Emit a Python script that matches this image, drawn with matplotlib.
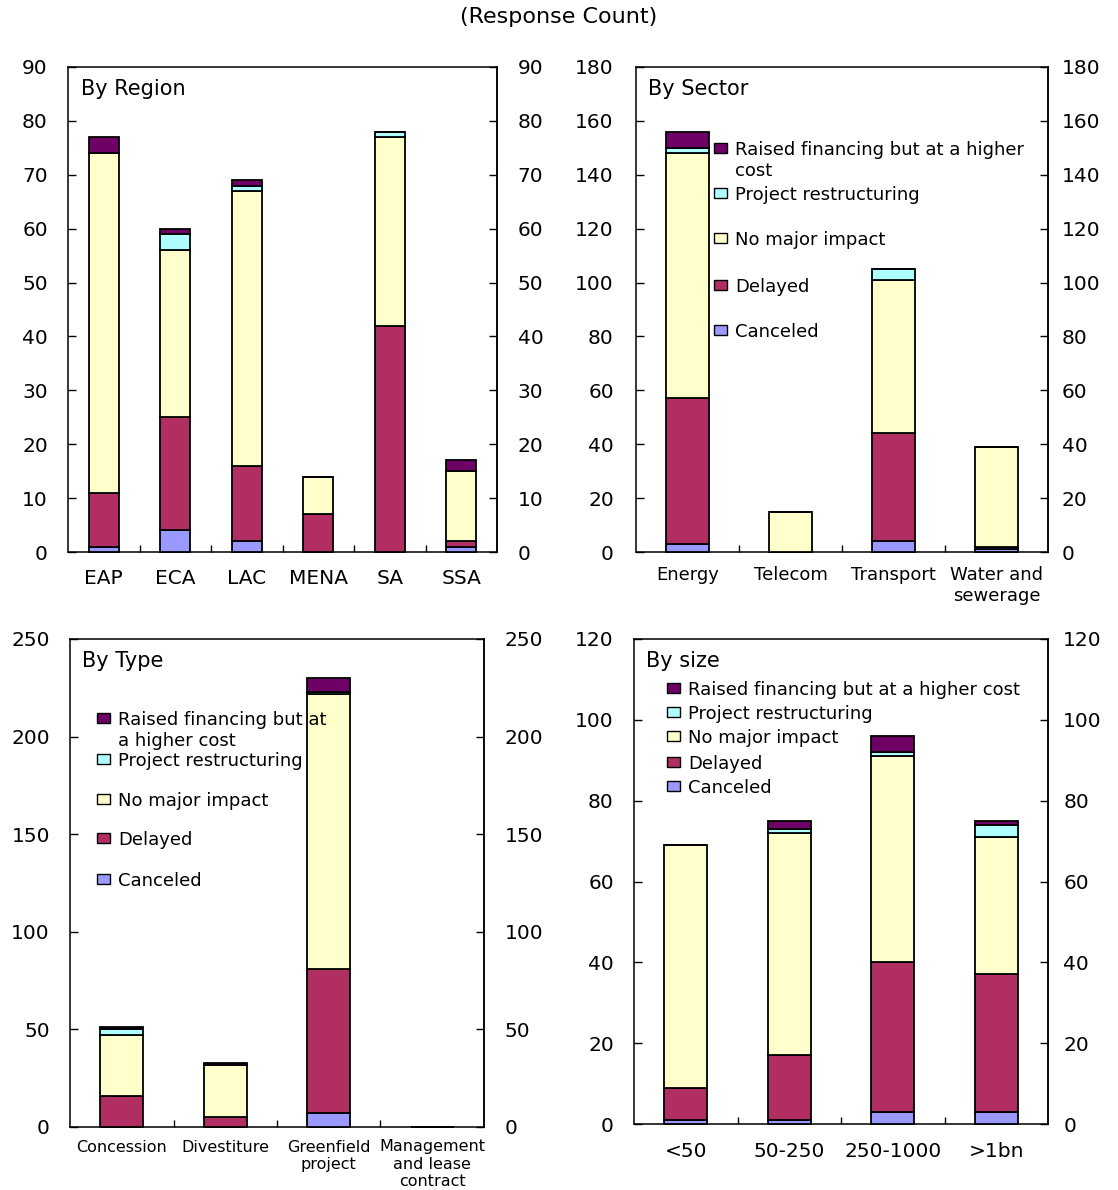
import numpy as np
import matplotlib
matplotlib.use('Agg')
import matplotlib.pyplot as plt
from matplotlib.patches import Rectangle

plt.rcParams['font.family'] = ['DejaVu Sans']

# series names (stacked bottom -> top) and colours
series_names = ['Canceled', 'Delayed', 'No major impact',
                'Project restructuring', 'Raised financing but at a higher cost']
colors = ['#9999FF', '#B02E62', '#FFFFCC', '#B0FFFF', '#6E0066']

# By Region
regions = ['EAP', 'ECA', 'LAC', 'MENA', 'SA', 'SSA']
region_canceled = [1, 4, 2, 0, 0, 1]
region_delayed = [10, 21, 14, 7, 42, 1]
region_nomajor = [63, 31, 51, 7, 35, 13]
region_restruct = [0, 3, 1, 0, 1, 0]
region_raised = [3, 1, 1, 0, 0, 2]

# By Sector
sectors = ['Energy', 'Telecom', 'Transport', 'Water and\nsewerage']
sector_canceled = [3, 0, 4, 1]
sector_delayed = [54, 0, 40, 1]
sector_nomajor = [91, 15, 57, 37]
sector_restruct = [2, 0, 4, 0]
sector_raised = [6, 0, 0, 0]

# By Type
types = ['Concession', 'Divestiture', 'Greenfield\nproject', 'Management\nand lease\ncontract']
type_canceled = [0, 0, 7, 0]
type_delayed = [16, 5, 74, 0]
type_nomajor = [31, 27, 141, 0]
type_restruct = [3, 0, 1, 0]
type_raised = [1, 1, 7, 0]

# By size
sizes = ['<50', '50-250', '250-1000', '>1bn']
size_canceled = [1, 1, 3, 3]
size_delayed = [8, 16, 37, 34]
size_nomajor = [60, 55, 51, 34]
size_restruct = [0, 1, 1, 3]
size_raised = [0, 2, 4, 1]

W, H = 1118, 1190
fig = plt.figure(figsize=(W / 100, H / 100), dpi=100)


def px_axes(left, top, right, bottom):
    return fig.add_axes([left / W, 1 - bottom / H, (right - left) / W, (bottom - top) / H])


def panel(ax, cats, data, ymax, step, title, lpad, rpad, xfont, xpad):
    x = np.arange(len(cats))
    bottom = np.zeros(len(cats))
    for vals, col in zip(data, colors):
        ax.bar(x, vals, width=0.42, bottom=bottom, color=col,
               edgecolor='black', linewidth=1.3, zorder=3, clip_on=False)
        bottom += np.array(vals)
    ax.set_xlim(-0.5, len(cats) - 0.5)
    ax.set_ylim(0, ymax)
    ax.set_xticks(x)
    ax.set_xticklabels(cats, fontsize=xfont, linespacing=1.2)
    ax.set_xticks(np.arange(0.5, len(cats) - 1), minor=True)
    ax.tick_params(axis='x', which='major', length=0, pad=xpad)
    ax.tick_params(axis='x', which='minor', direction='in', length=5, width=1)
    ticks = np.arange(0, ymax + 1, step)
    ax.set_yticks(ticks)
    ax.tick_params(axis='y', direction='in', length=6, width=1, labelsize=14.5, pad=lpad)
    for s in ax.spines.values():
        s.set_linewidth(1.1)
    r = ax.twinx()
    r.set_ylim(0, ymax)
    r.set_yticks(ticks)
    r.tick_params(axis='y', direction='in', length=6, width=1, labelsize=14.5, pad=rpad)
    for name, s in r.spines.items():
        s.set_linewidth(1.1)
        if name != 'right':
            s.set_visible(False)
    ax.text(0.03, 0.955, title, transform=ax.transAxes, fontsize=15, va='center')
    return ax


def key(ax, x0, ys, labels, fs=13):
    w = 13 / ax.bbox.width
    h = 10 / ax.bbox.height
    tx = x0 + 21 / ax.bbox.width
    for y, lab, col in zip(ys, labels, colors[::-1]):
        ax.add_patch(Rectangle((x0, y - h / 2), w, h, transform=ax.transAxes,
                               facecolor=col, edgecolor='black', linewidth=1.0,
                               clip_on=False, zorder=5))
        lines = lab.split('\n')
        lh = 21 / ax.bbox.height
        for i, line in enumerate(lines):
            ax.text(tx, y - i * lh, line, transform=ax.transAxes, fontsize=fs,
                    va='center_baseline', ha='left', zorder=5)


fig.text(0.5, 1 - 17 / H, '(Response Count)', ha='center', va='center', fontsize=16)

ax1 = px_axes(68, 67, 497, 552)
panel(ax1, regions, [region_canceled, region_delayed, region_nomajor, region_restruct, region_raised],
      90, 10, 'By Region', 14.5, 15, 14.5, 12)

ax2 = px_axes(636, 67, 1048, 552)
panel(ax2, sectors, [sector_canceled, sector_delayed, sector_nomajor, sector_restruct, sector_raised],
      180, 20, 'By Sector', 16, 10, 13, 10)
key(ax2, 0.189, [0.833, 0.740, 0.647, 0.551, 0.458],
    ['Raised financing but at a higher\ncost', 'Project restructuring',
     'No major impact', 'Delayed', 'Canceled'])

ax3 = px_axes(70, 639, 484, 1127)
panel(ax3, types, [type_canceled, type_delayed, type_nomajor, type_restruct, type_raised],
      250, 50, 'By Type', 14.5, 15, 11.5, 9)
key(ax3, 0.065, [0.838, 0.754, 0.672, 0.592, 0.508],
    ['Raised financing but at\na higher cost', 'Project restructuring',
     'No major impact', 'Delayed', 'Canceled'])

ax4 = px_axes(634, 639, 1048, 1124)
panel(ax4, sizes, [size_canceled, size_delayed, size_nomajor, size_restruct, size_raised],
      120, 20, 'By size', 14.5, 11, 14.5, 13)
key(ax4, 0.080, [0.899, 0.849, 0.800, 0.746, 0.697],
    ['Raised financing but at a higher cost', 'Project restructuring',
     'No major impact', 'Delayed', 'Canceled'])

fig.savefig('out.png', dpi=100)
